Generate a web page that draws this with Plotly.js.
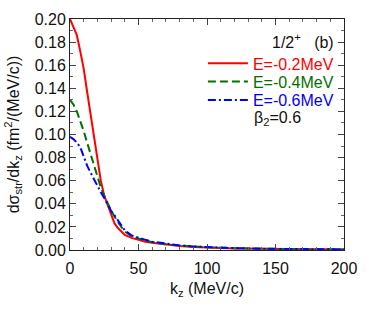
<!DOCTYPE html>
<html>
<head>
<meta charset="utf-8">
<script src="https://cdn.plot.ly/plotly-3.0.1.min.js"></script>
<style>
  html, body { margin: 0; padding: 0; background: #fff; }
  #chart { width: 374px; height: 320px; }
</style>
</head>
<body>
<div id="chart"></div>
<script>
// momentum k_z (MeV/c)
const kz = [0, 2.5, 5, 7.5, 10, 12.5, 15, 17.5, 20, 22.5, 25, 27.5, 30, 32.5, 35, 40, 45, 50, 55, 60, 70, 80, 90, 100, 120, 140, 160, 180, 200];

// dsigma/dk_z for each binding energy
const e02 = [0.200, 0.193, 0.186, 0.172, 0.157, 0.137, 0.118, 0.097, 0.077, 0.060, 0.047, 0.039, 0.031, 0.023, 0.019, 0.013, 0.0105, 0.0088, 0.0072, 0.0062, 0.0046, 0.0035, 0.0027, 0.0021, 0.0014, 0.0010, 0.0008, 0.0006, 0.0005];
const e04 = [0.130, 0.126, 0.120, 0.112, 0.103, 0.093, 0.083, 0.072, 0.063, 0.054, 0.047, 0.040, 0.034, 0.029, 0.024, 0.016, 0.012, 0.010, 0.0082, 0.0068, 0.0050, 0.0038, 0.0030, 0.0023, 0.0015, 0.0011, 0.0008, 0.0006, 0.0005];
const e06 = [0.098, 0.096, 0.093, 0.089, 0.081, 0.073, 0.067, 0.061, 0.056, 0.050, 0.045, 0.039, 0.034, 0.030, 0.026, 0.017, 0.0125, 0.0105, 0.0088, 0.0072, 0.0053, 0.0040, 0.0031, 0.0024, 0.0016, 0.0011, 0.0008, 0.0006, 0.0005];

const seriesNames = ['E=-0.2MeV', 'E=-0.4MeV', 'E=-0.6MeV'];
const seriesColors = ['#ff0000', '#007000', '#0000ff'];
const seriesDash = ['solid', '8px,4px', '8px,3px,2px,3px'];
const seriesValues = [e02, e04, e06];
const legendIds = ['legend', 'legend2', 'legend3'];
const legendY = [0.808, 0.729, 0.649];

const font = 'Liberation Sans, Arial, Helvetica, sans-serif';

const traces = seriesValues.map((vals, i) => ({
  type: 'scatter',
  mode: 'lines',
  x: kz,
  y: vals,
  legend: legendIds[i],
  name: `<span style="color:${seriesColors[i]}">${seriesNames[i]}</span>`,
  line: { color: seriesColors[i], width: 2, dash: seriesDash[i] },
}));

const legendBase = {
  x: 0.485,
  xanchor: 'left',
  yanchor: 'middle',
  bgcolor: 'rgba(0,0,0,0)',
  font: { family: font, size: 16 },
  itemwidth: 40,
};

const axisBase = {
  showline: true,
  linecolor: '#222',
  linewidth: 1,
  mirror: 'ticks',
  ticks: 'inside',
  ticklen: 6,
  tickcolor: '#444',
  showgrid: false,
  zeroline: false,
  tickfont: { family: font, size: 16, color: '#111' },
};

const layout = {
  width: 374,
  height: 320,
  margin: { l: 70, r: 30, t: 19, b: 70 },
  paper_bgcolor: '#fff',
  plot_bgcolor: '#fff',
  font: { family: font, size: 16, color: '#111' },
  xaxis: {
    ...axisBase,
    range: [0, 200],
    dtick: 50,
    ticklabelstandoff: 4,
    minor: { dtick: 10, ticks: 'inside', ticklen: 3, tickcolor: '#666' },
    title: { text: 'k<sub>z</sub> (MeV/c)', font: { family: font, size: 16 }, standoff: 6 },
  },
  yaxis: {
    ...axisBase,
    range: [0, 0.2],
    dtick: 0.02,
    tickformat: '.2f',
    minor: { dtick: 0.01, ticks: 'inside', ticklen: 3, tickcolor: '#666' },
    title: { text: 'dσ<sub>str</sub>/dk<sub>z</sub> (fm<sup>2</sup>/(MeV/c))', font: { family: font, size: 16 }, standoff: 11 },
  },
  showlegend: true,
  annotations: [
    { xref: 'paper', yref: 'paper', x: 0.97, y: 0.905, xanchor: 'right', yanchor: 'middle', showarrow: false,
      text: '1/2<sup>+</sup>&nbsp;&nbsp;&nbsp;(b)', font: { family: font, size: 16, color: '#111' } },
    { xref: 'paper', yref: 'paper', x: 0.665, y: 0.571, xanchor: 'left', yanchor: 'middle', showarrow: false,
      text: 'β<sub>2</sub>=0.6', font: { family: font, size: 16, color: '#111' } },
  ],
};
legendIds.forEach((id, i) => { layout[id] = { ...legendBase, y: legendY[i] }; });

Plotly.newPlot('chart', traces, layout, { staticPlot: true, displayModeBar: false });
</script>
</body>
</html>
